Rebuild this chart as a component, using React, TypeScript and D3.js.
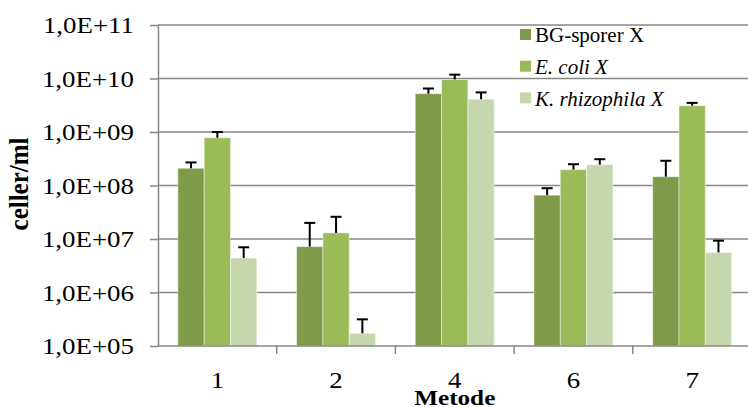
import React, { useEffect, useRef } from "react";
import * as d3 from "d3";

const categories = ["1", "2", "4", "6", "7"];
const seriesNames = ["BG-sporer X", "E. coli X", "K. rhizophila X"];
const italicSeries = [false, true, true];
const colors = ["#7f9a48", "#9bbb59", "#c7d7ad"];

// mean values per method, one array per series
const bgValues = [2.1e8, 7.2e6, 5.2e9, 6.6e7, 1.46e8];
const ecoliValues = [7.8e8, 1.3e7, 9.6e9, 1.98e8, 3.1e9];
const kValues = [4.4e6, 1.73e5, 4.1e9, 2.45e8, 5.6e6];

// upper end of the error bars
const bgErr = [2.7e8, 2.0e7, 6.5e9, 8.9e7, 2.9e8];
const ecoliErr = [1.0e9, 2.6e7, 1.18e10, 2.5e8, 3.5e9];
const kErr = [7.0e6, 3.15e5, 5.5e9, 3.1e8, 9.3e6];

const yTicks = [1e5, 1e6, 1e7, 1e8, 1e9, 1e10, 1e11];

const width = 748;
const height = 407;
const font = "'Liberation Serif', 'Times New Roman', serif";
const stretch = 1.17;

export default function App() {
  const chartRef = useRef(null);

  useEffect(() => {
    const svg = d3.select(chartRef.current);
    const margin = { top: 25, right: -3.5, bottom: 61, left: 158 };
    const values = [bgValues, ecoliValues, kValues];
    const errs = [bgErr, ecoliErr, kErr];

    const data = categories.map((c, i) => ({
      cat: c,
      bars: seriesNames.map((s, k) => ({ key: s, k, value: values[k][i], err: errs[k][i] }))
    }));

    const y = d3
      .scaleLog()
      .domain([1e5, 1e11])
      .range([height - margin.bottom, margin.top]);

    const x0 = d3
      .scaleBand()
      .domain(categories)
      .range([margin.left, width - margin.right])
      .paddingInner(0)
      .paddingOuter(0);

    const x1 = d3
      .scaleBand()
      .domain(seriesNames)
      .range([0, x0.bandwidth()])
      .paddingInner(0)
      .paddingOuter(0.755);

    // gridlines
    svg
      .append("g")
      .selectAll("line")
      .data(yTicks.slice(1))
      .join("line")
      .attr("x1", margin.left)
      .attr("x2", width - margin.right)
      .attr("y1", d => y(d))
      .attr("y2", d => y(d))
      .attr("stroke", "#878787")
      .attr("stroke-width", 1.5);

    // bars
    const groups = svg
      .append("g")
      .selectAll("g")
      .data(data)
      .join("g")
      .attr("transform", d => `translate(${x0(d.cat)},0)`);

    groups
      .selectAll("rect")
      .data(d => d.bars)
      .join("rect")
      .attr("x", d => x1(d.key))
      .attr("y", d => y(d.value))
      .attr("width", x1.bandwidth())
      .attr("height", d => y(1e5) - y(d.value))
      .attr("fill", d => colors[d.k])
      .attr("stroke", "rgba(255,255,255,0.45)")
      .attr("stroke-width", 1);

    // error bars (upper only)
    const eb = groups
      .selectAll("g.err")
      .data(d => d.bars)
      .join("g")
      .attr("class", "err")
      .attr("stroke", "#000")
      .attr("stroke-width", 2);
    eb.append("line")
      .attr("x1", d => x1(d.key) + x1.bandwidth() / 2)
      .attr("x2", d => x1(d.key) + x1.bandwidth() / 2)
      .attr("y1", d => y(d.value))
      .attr("y2", d => y(d.err));
    eb.append("line")
      .attr("x1", d => x1(d.key) + x1.bandwidth() / 2 - 5.5)
      .attr("x2", d => x1(d.key) + x1.bandwidth() / 2 + 5.5)
      .attr("y1", d => y(d.err))
      .attr("y2", d => y(d.err));

    // y axis
    const fmt = d => "1,0E+" + String(Math.round(Math.log10(d))).padStart(2, "0");
    svg
      .append("g")
      .attr("transform", `translate(${margin.left},0)`)
      .call(d3.axisLeft(y).tickValues(yTicks).tickFormat(fmt).tickSize(8).tickSizeOuter(0))
      .call(g => g.select(".domain").attr("stroke", "#878787").attr("stroke-width", 1.5))
      .call(g => g.selectAll(".tick line").attr("stroke", "#878787").attr("stroke-width", 1.5))
      .call(g =>
        g
          .selectAll(".tick text")
          .attr("x", null)
          .attr("dy", null)
          .attr("transform", `translate(-24,7.7) scale(${stretch},1)`)
          .attr("font-family", font)
          .attr("font-size", 23)
          .attr("fill", "#000")
      );

    // x axis
    const baseY = y(1e5);
    const xg = svg.append("g");
    xg.append("line")
      .attr("x1", margin.left)
      .attr("x2", width - margin.right)
      .attr("y1", baseY)
      .attr("y2", baseY)
      .attr("stroke", "#878787")
      .attr("stroke-width", 1.5);
    xg.selectAll("line.tk")
      .data(categories.slice(1))
      .join("line")
      .attr("class", "tk")
      .attr("x1", d => x0(d))
      .attr("x2", d => x0(d))
      .attr("y1", baseY)
      .attr("y2", baseY + 8)
      .attr("stroke", "#878787")
      .attr("stroke-width", 1.5);
    xg.selectAll("text")
      .data(categories)
      .join("text")
      .attr("transform", d => `translate(${x0(d) + x0.bandwidth() / 2},388) scale(${stretch},1)`)
      .attr("text-anchor", "middle")
      .attr("font-family", font)
      .attr("font-size", 23)
      .text(d => d);

    // axis titles
    svg
      .append("text")
      .attr("transform", `translate(${(margin.left + width - margin.right) / 2},404.5) scale(1.2,1)`)
      .attr("text-anchor", "middle")
      .attr("font-family", font)
      .attr("font-weight", "bold")
      .attr("font-size", 21)
      .text("Metode");

    svg
      .append("text")
      .attr("transform", "translate(28,184) rotate(-90) scale(1,1.1)")
      .attr("text-anchor", "middle")
      .attr("font-family", font)
      .attr("font-weight", "bold")
      .attr("font-size", 25)
      .text("celler/ml");

    // legend
    const legend = svg
      .append("g")
      .selectAll("g")
      .data(seriesNames)
      .join("g")
      .attr("transform", (d, i) => `translate(520,${29 + i * 31.7})`);
    legend
      .append("rect")
      .attr("width", 11)
      .attr("height", 11)
      .attr("fill", (d, i) => colors[i]);
    legend
      .append("text")
      .attr("x", 15)
      .attr("y", 13.3)
      .attr("font-family", font)
      .attr("font-size", 21)
      .attr("font-style", (d, i) => (italicSeries[i] ? "italic" : "normal"))
      .text(d => d);

    return () => {
      svg.html("");
    };
  }, [chartRef]);

  return (
    <svg
      ref={chartRef}
      width={width}
      height={height}
      style={{ position: "absolute", left: 0, top: 0, background: "#fff" }}
    />
  );
}
